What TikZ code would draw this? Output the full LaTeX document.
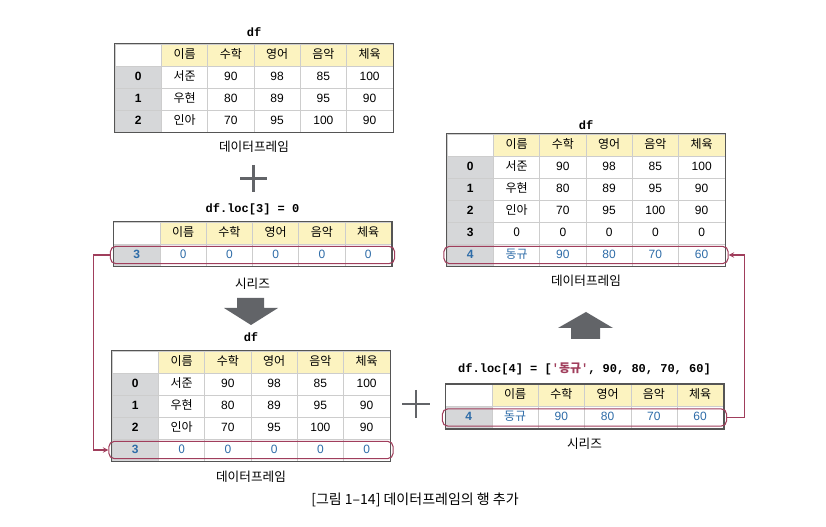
\documentclass[tikz,border=0pt]{standalone}
\usepackage{fontspec}
\setmainfont{Liberation Sans}
\setmonofont{Liberation Mono}
\newfontfamily\kr{Noto Sans CJK KR}
\usepackage{tikz}
\usetikzlibrary{positioning}
\usetikzlibrary{matrix, fit, arrows}
\definecolor{myyel1}{RGB}{252,243,192}
\definecolor{mygri1}{RGB}{214,215,217}
\definecolor{mygri2}{RGB}{205,205,205}
\definecolor{mygri3}{RGB}{85,85,85}
\definecolor{mygri4}{RGB}{98,100,104}
\definecolor{myblu1}{RGB}{46,108,168}
\definecolor{mymaro}{RGB}{160,62,92}
\tikzstyle{cell} = [rectangle, draw=mygri2, line width=0.4pt, minimum width=34.7pt, minimum height=16.5pt, inner sep=0pt, anchor=center, text height=7pt, text depth=2pt, text centered, font=\fontsize{9}{10}\selectfont]
\tikzstyle{head} = [fill=myyel1, font=\kr\fontsize{9}{10}\selectfont]
\tikzstyle{idx} = [fill=mygri1, font=\bfseries\fontsize{9}{10}\selectfont]
\tikzstyle{kname} = [font=\kr\fontsize{9}{10}\selectfont]
\tikzstyle{dftable} = [matrix of nodes, nodes in empty cells, inner sep=0pt, column sep=-0.4pt, row sep=-0.4pt, nodes={cell}, column 1/.style={nodes={idx}}, column 2/.style={nodes={kname}}, row 1/.style={nodes={head}}, row 1 column 1/.style={nodes={fill=white}}]
\tikzstyle{frame} = [draw=mygri3, line width=1pt]
\tikzstyle{hilite} = [rectangle, draw=mymaro, line width=0.8pt, rounded corners=4pt, inner xsep=2.3pt, inner ysep=-2pt]
\tikzstyle{link} = [draw=mymaro, line width=0.8pt, ->, >=stealth]
\tikzstyle{code} = [inner sep=1pt, font=\ttfamily\bfseries\fontsize{9}{10}\selectfont]
\tikzstyle{title} = [inner sep=1pt, font=\kr\fontsize{9.5}{11}\selectfont]
\tikzstyle{plus} = [draw=mygri4, line width=2pt]
\tikzstyle{blockarrow} = [fill=mygri4]

\begin{document}
\begin{tikzpicture}[x=0.75pt, y=-0.75pt]
	\fill[white] (0,0) rectangle (826,527);
	\useasboundingbox (0,0) rectangle (826,527);
	% left side
	\matrix (t1)[dftable] at (254,88) {
		 & 이름 & 수학 & 영어 & 음악 & 체육 \\
		0 & 서준 & 90 & 98 & 85 & 100 \\
		1 & 우현 & 80 & 89 & 95 & 90 \\
		2 & 인아 & 70 & 95 & 100 & 90 \\
	};
	\matrix (t2)[dftable, row 2/.style={nodes={text=myblu1}}] at (252.5,244) {
		 & 이름 & 수학 & 영어 & 음악 & 체육 \\
		3 & 0 & 0 & 0 & 0 & 0 \\
	};
	\matrix (t3)[dftable, row 5/.style={nodes={text=myblu1}}] at (251,406) {
		 & 이름 & 수학 & 영어 & 음악 & 체육 \\
		0 & 서준 & 90 & 98 & 85 & 100 \\
		1 & 우현 & 80 & 89 & 95 & 90 \\
		2 & 인아 & 70 & 95 & 100 & 90 \\
		3 & 0 & 0 & 0 & 0 & 0 \\
	};
	% right side
	\matrix (t4)[dftable, row 6/.style={nodes={text=myblu1}}] at (586,200) {
		 & 이름 & 수학 & 영어 & 음악 & 체육 \\
		0 & 서준 & 90 & 98 & 85 & 100 \\
		1 & 우현 & 80 & 89 & 95 & 90 \\
		2 & 인아 & 70 & 95 & 100 & 90 \\
		3 & 0 & 0 & 0 & 0 & 0 \\
		4 & 동규 & 90 & 80 & 70 & 60 \\
	};
	\matrix (t5)[dftable, row 2/.style={nodes={text=myblu1}}] at (584.5,406.5) {
		 & 이름 & 수학 & 영어 & 음악 & 체육 \\
		4 & 동규 & 90 & 80 & 70 & 60 \\
	};
	\draw[frame] (t1.north west) rectangle (t1.south east);
	\draw[frame] (t2.north west) rectangle (t2.south east);
	\draw[frame] (t3.north west) rectangle (t3.south east);
	\draw[frame] (t4.north west) rectangle (t4.south east);
	\draw[frame] (t5.north west) rectangle (t5.south east);
	\node (t1name)[code, above=4.2pt of t1]{df};
	\node (t1cap)[title, below=5.2pt of t1]{데이터프레임};
	\node (t2name)[code, above=3.5pt of t2]{df.loc[3] = 0};
	\node (t2cap)[title, below=7.5pt of t2]{시리즈};
	\node (t3name)[code, above=5.7pt of t3]{df};
	\node (t3cap)[title, below=6pt of t3]{데이터프레임};
	\node (t4name)[code, above=2pt of t4]{df};
	\node (t4cap)[title, below=5.2pt of t4]{데이터프레임};
	\node (t5name)[code, above=5.7pt of t5]{df.loc[4] = [{\color{mymaro}'{\kr\fontsize{9}{10}\selectfont 동규}'}, 90, 80, 70, 60]};
	\node (t5cap)[title, below=5.2pt of t5]{시리즈};
	% rows that move
	\node (hl3)[hilite, fit=(t2-2-1)(t2-2-6)]{};
	\node (hl3b)[hilite, fit=(t3-5-1)(t3-5-6)]{};
	\node (hl4)[hilite, fit=(t4-6-1)(t4-6-6)]{};
	\node (hl4b)[hilite, fit=(t5-2-1)(t5-2-6)]{};
	\draw[link] (hl3.west) -- ++(-16,0) |- (hl3b.west);
	\draw[link] (hl4b.east) -- ++(17,0) |- (hl4.east);
	% plus signs and block arrows
	\draw[plus] (240,178.5) -- (267,178.5) (253.5,165) -- (253.5,192);
	\draw[plus] (402,404) -- (430,404) (416,390) -- (416,418);
	\fill[blockarrow] (237,298) -- (264,298) -- (264,308) -- (278,308) -- (251,325) -- (224,308) -- (237,308) -- cycle;
	\fill[blockarrow] (586,312) -- (613,328) -- (600,328) -- (600,339) -- (571,339) -- (571,328) -- (558,328) -- cycle;
	\node (caption)[title, font=\kr\fontsize{10.5}{12}\selectfont] at (415,500) {[그림 1–14] 데이터프레임의 행 추가};
\end{tikzpicture}
\end{document}
